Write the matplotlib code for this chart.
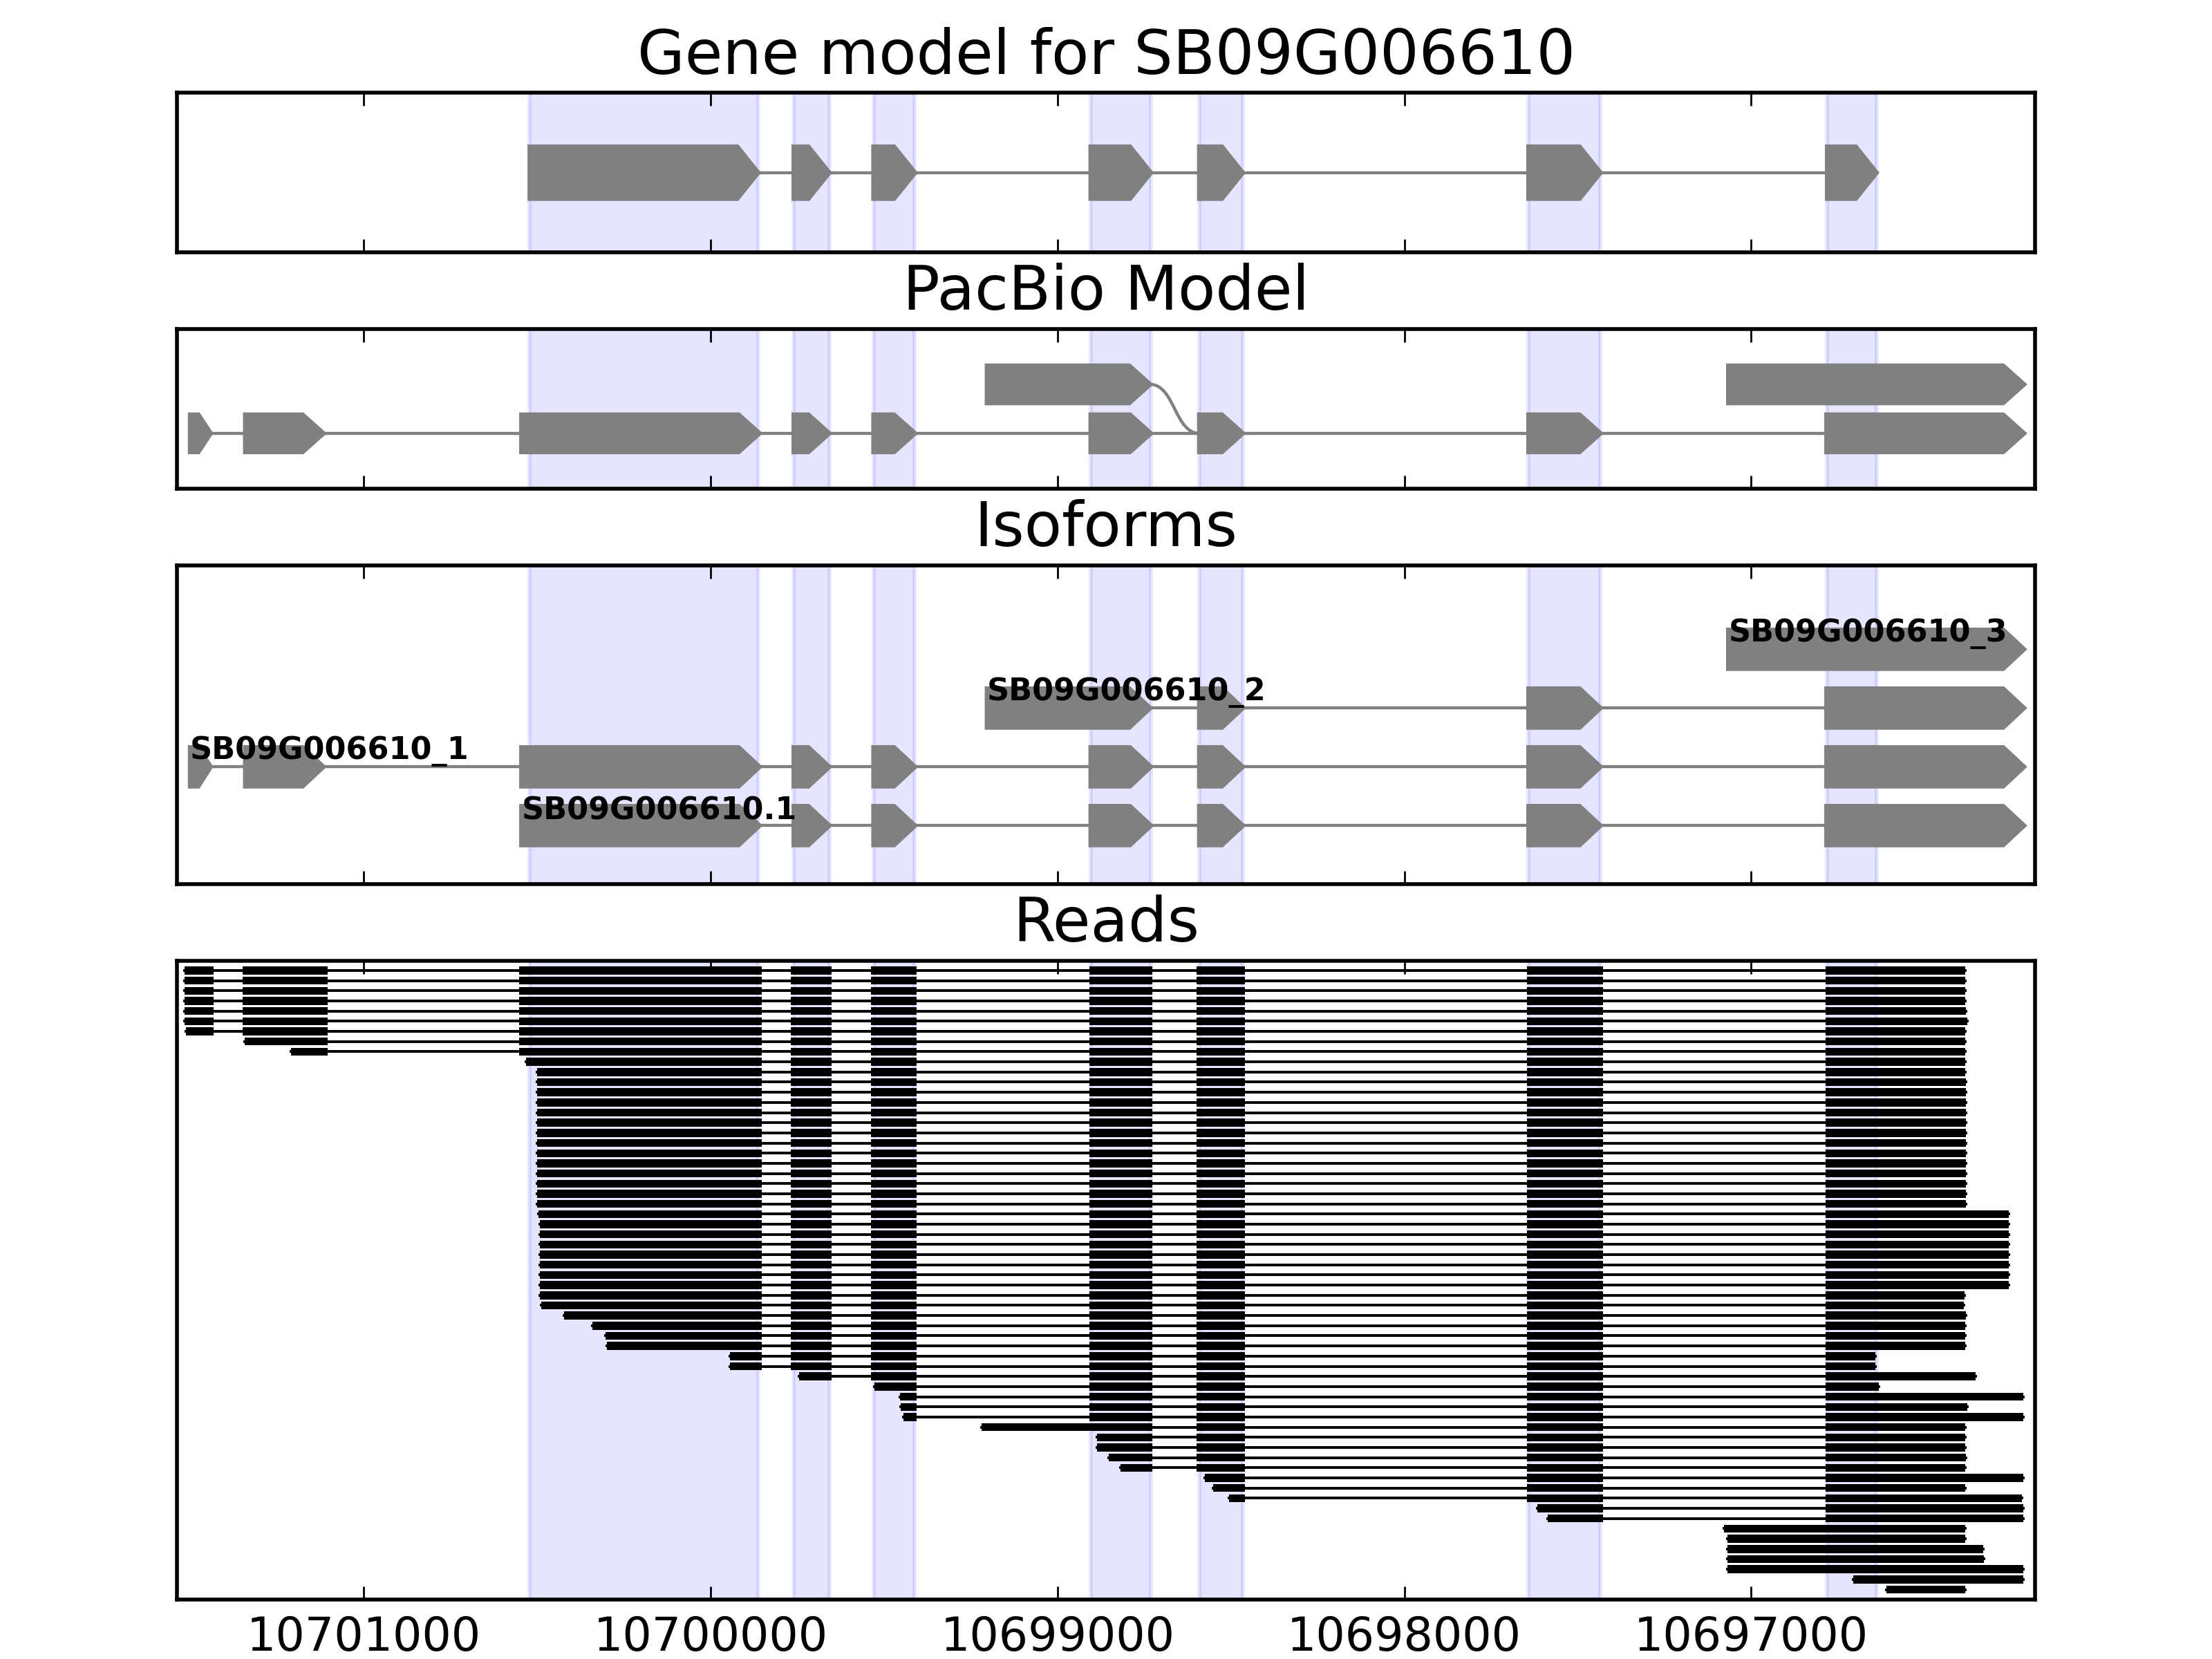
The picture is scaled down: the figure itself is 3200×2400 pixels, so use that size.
import numpy as np
import matplotlib
matplotlib.use("Agg")
import matplotlib.pyplot as plt
from matplotlib.patches import Polygon, Rectangle, PathPatch
from matplotlib.path import Path
from matplotlib.ticker import MultipleLocator, FuncFormatter

# gene is on the minus strand: every exon is (start, end) with start > end
gene_exons = [(10700521, 10699863), (10699760, 10699658), (10699530, 10699411),
              (10698904, 10698731), (10698591, 10698466), (10697642, 10697435),
              (10696781, 10696639)]

# PacBio splice graph: main row and the two alternative exons above it
pb_lower = [(10701500, 10701441), (10701341, 10701116), (10700545, 10699859),
            (10699760, 10699658), (10699530, 10699411), (10698904, 10698731),
            (10698591, 10698466), (10697642, 10697435), (10696783, 10696214)]
pb_upper = [(10699203, 10698733), (10697066, 10696214)]

iso_names = ["SB09G006610.1", "SB09G006610_1", "SB09G006610_2", "SB09G006610_3"]
iso_exons = [pb_lower[2:],
             pb_lower,
             [pb_upper[0]] + pb_lower[6:],
             [pb_upper[1]]]

# exon blocks seen in the reads
read_exons_main = [(10701516, 10701433), (10701348, 10701104), (10700551, 10699853),
                   (10699768, 10699651), (10699538, 10699405), (10698908, 10698727),
                   (10698598, 10698459), (10697647, 10697428), (10696786, 10696200)]
read_exons_alt5 = [(10699219, 10698727), (10698598, 10698459), (10697647, 10697428),
                   (10696786, 10696200)]
read_exons_alt3 = [(10697080, 10696200)]
read_paths = {"m": read_exons_main, "a": read_exons_alt5, "b": read_exons_alt3}

read_start = [10701516, 10701516, 10701516, 10701516, 10701516, 10701516, 10701513,
              10701343, 10701210, 10700531,
              10700500, 10700500, 10700500, 10700500, 10700500, 10700500, 10700500,
              10700500, 10700500, 10700500, 10700500, 10700500, 10700500, 10700500,
              10700496,
              10700491, 10700491, 10700491, 10700491, 10700491, 10700491, 10700491,
              10700491,
              10700488, 10700422, 10700340, 10700302, 10700299, 10699943, 10699943,
              10699744, 10699528, 10699454, 10699451, 10699444, 10699219, 10698886,
              10698886, 10698852, 10698818, 10698575, 10698552, 10698505, 10697617,
              10697586, 10697079, 10697069, 10697069, 10697069, 10697069, 10696706,
              10696611]
read_end = [10696384, 10696384, 10696384, 10696384, 10696381, 10696377,
            10696384, 10696384, 10696384, 10696384, 10696384,
            10696382, 10696382, 10696382, 10696382, 10696382, 10696382, 10696382,
            10696382, 10696382, 10696382, 10696382, 10696382, 10696382,
            10696257, 10696257, 10696257, 10696257, 10696257, 10696257, 10696257,
            10696257,
            10696386, 10696387, 10696381, 10696384, 10696384, 10696384, 10696643,
            10696643, 10696353, 10696633, 10696216, 10696377, 10696216, 10696384,
            10696384, 10696384, 10696382, 10696384, 10696216, 10696384, 10696219,
            10696216, 10696216, 10696384, 10696384, 10696332, 10696330, 10696216,
            10696216, 10696384]
read_path = "mmmmmmmmmmmmmmmmmmmmmmmmmmmmmmmmmmmmmmmmmmmmmammmmmmmmmbbbbbmm"

xlim = (10701538, 10696182)
gray = "#808080"


def draw_arrow(ax, hi, lo, y, h):
    tip = min(60, 0.6 * (hi - lo))
    pts = [(hi, y - h / 2), (lo + tip, y - h / 2), (lo, y),
           (lo + tip, y + h / 2), (hi, y + h / 2)]
    ax.add_patch(Polygon(pts, closed=True, fc=gray, ec=gray, lw=1.2, zorder=3))


def draw_model(ax, exons, y, h):
    if len(exons) > 1:
        ax.plot([exons[0][0], exons[-1][1]], [y, y], color=gray, lw=0.8, zorder=2)
    for hi, lo in exons:
        draw_arrow(ax, hi, lo, y, h)


fig = plt.figure(figsize=(8, 6))
gs = fig.add_gridspec(4, 1, height_ratios=[1, 1, 2, 4], left=0.08, right=0.92,
                      top=0.944, bottom=0.036, hspace=0.24)
axes = [fig.add_subplot(gs[i]) for i in range(4)]
titles = ["Gene model for SB09G006610", "PacBio Model", "Isoforms", "Reads"]

for i, ax in enumerate(axes):
    for hi, lo in gene_exons:
        ax.axvspan(lo, hi, color="blue", alpha=0.1, lw=1, zorder=1)
    ax.set_xlim(xlim)
    ax.xaxis.set_major_locator(MultipleLocator(1000))
    ax.xaxis.set_major_formatter(FuncFormatter(lambda v, p: "%d" % v))
    ax.tick_params(axis="x", direction="in", top=True, bottom=True, length=3.5,
                   width=0.5, labelsize=12, pad=4, labelbottom=(i == 3))
    ax.set_yticks([])
    for s in ax.spines.values():
        s.set_linewidth(1.0)
    ax.set_title(titles[i], fontsize=16, pad=5)

# gene model
ax = axes[0]
draw_model(ax, gene_exons, 1, 0.65)
ax.set_ylim(0, 2)

# PacBio model
ax = axes[1]
draw_model(ax, pb_lower, 1, 0.76)
for hi, lo in pb_upper:
    draw_arrow(ax, hi, lo, 2, 0.76)
x0, x1 = pb_upper[0][1], pb_lower[6][0]
xm = x0 + 0.5 * (x1 - x0)
curve = Path([(x0, 2), (xm, 2), (xm, 1), (x1, 1)],
             [Path.MOVETO, Path.CURVE4, Path.CURVE4, Path.CURVE4])
ax.add_patch(PathPatch(curve, fc="none", ec=gray, lw=0.8, zorder=2))
ax.set_ylim(-0.13, 3.13)

# isoforms
ax = axes[2]
for k, (name, exons) in enumerate(zip(iso_names, iso_exons)):
    y = k + 1
    draw_model(ax, exons, y, 0.66)
    ax.text(exons[0][0], y, name, fontsize=8, fontweight="bold",
            ha="left", va="bottom", zorder=5)
ax.set_ylim(0, 5.43)

# reads
ax = axes[3]
for i in range(len(read_start)):
    y = i + 1
    hi, lo = read_start[i], read_end[i]
    ax.plot([hi, lo], [y, y], color="k", lw=0.7, zorder=2)
    for a, b in read_paths[read_path[i]]:
        s = min(a, hi)
        e = max(b, lo)
        if s > e:
            ax.add_patch(Rectangle((e, y - 0.39), s - e, 0.78, fc="k", ec="none",
                                   lw=0, zorder=3))
ax.set_ylim(len(read_start) + 0.96, 0.06)

fig.savefig("out.png", dpi=400)
